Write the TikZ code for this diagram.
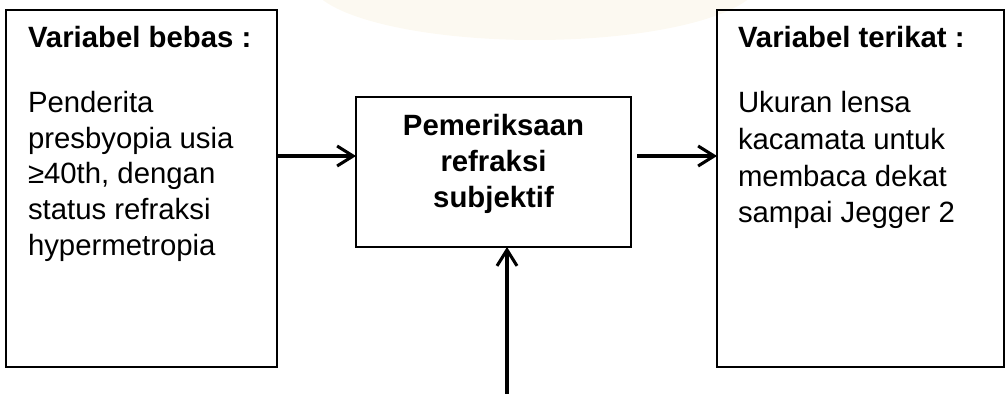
\documentclass[tikz,border=0pt]{standalone}
\usepackage{fontspec}
\setmainfont{Liberation Sans}
\usetikzlibrary{arrows.meta}
\definecolor{wm}{RGB}{252,249,241}
\tikzset{
  box/.style={draw=black, line width=1.3pt, inner sep=0pt, outer sep=0pt},
  txt/.style={inner sep=0pt, outer sep=0pt, anchor=base west},
  arr/.style={line width=2.3pt, -{Straight Barb[length=12pt,width=15pt,line width=2.3pt]}},
}
\newcommand{\tf}{\fontsize{22}{26.7}\selectfont}
\begin{document}
\begin{tikzpicture}[x=0.75pt,y=-0.75pt]
\useasboundingbox (0,0) rectangle (1006,393);
% faint watermark
\fill[wm] (535,-20) ellipse [x radius=225, y radius=60];
% boxes
\node[box, minimum width={271*0.75pt}, minimum height={357*0.75pt}] (L) at (141.5,188.5) {};
\node[box, minimum width={275*0.75pt}, minimum height={150*0.75pt}] (M) at (493.5,172) {};
\node[box, minimum width={287*0.75pt}, minimum height={357*0.75pt}] (R) at (860.5,188.5) {};
% texts
\node[txt] (Lt) at (28,47) {\tf\bfseries Variabel bebas :};
\node[txt] (Lb) at (28,112.7) {\tf\begin{tabular}[t]{@{}l@{}}Penderita\\presbyopia usia\\≥40th, dengan\\status refraksi\\hypermetropia\end{tabular}};
\node[txt] (Rt) at (738,47) {\tf\bfseries Variabel terikat :};
\node[txt] (Rb) at (738,112.7) {\fontsize{22}{27.5}\selectfont\begin{tabular}[t]{@{}l@{}}Ukuran lensa\\kacamata untuk\\membaca dekat\\sampai Jegger 2\end{tabular}};
\node[inner sep=0pt, anchor=base] (Mt) at (493.5,135) {\fontsize{22}{27}\selectfont\bfseries\begin{tabular}[t]{@{}c@{}}Pemeriksaan\\refraksi\\subjektif\end{tabular}};
% connectors
\coordinate (ya) at (0,156);
\coordinate (src) at (507,395);
\draw[arr] (L.east |- ya) -- (M.west |- ya);
\draw[arr] ([xshift=4.5pt]M.east |- ya) -- (R.west |- ya);
\draw[arr] (src) -- (src |- M.south);
\end{tikzpicture}
\end{document}
